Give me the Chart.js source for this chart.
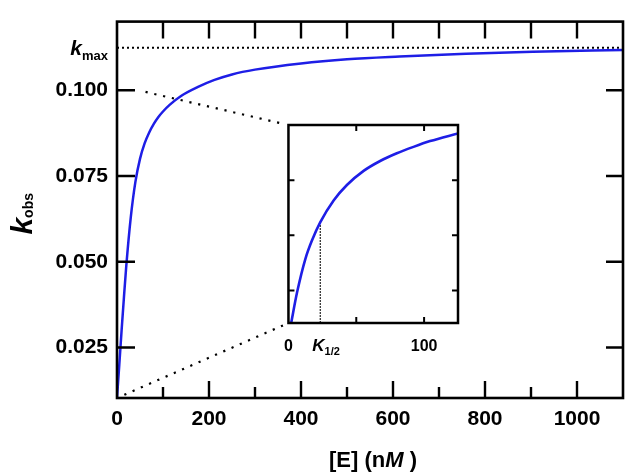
<!DOCTYPE html>
<html>
<head>
<meta charset="utf-8">
<script src="https://cdn.jsdelivr.net/npm/chart.js@4.4.1/dist/chart.umd.min.js"></script>
<style>
  html, body { margin: 0; padding: 0; background: #fff; }
  #wrap { position: relative; width: 632px; height: 475px; }
  #main { position: absolute; left: 0; top: 0; }
  #inset { position: absolute; left: 270px; top: 115px; }
</style>
</head>
<body>
<div id="wrap">
  <canvas id="main" width="632" height="475"></canvas>
  <canvas id="inset" width="200" height="250"></canvas>
</div>
<script>
// curve: [E] (nM) vs kobs
const mainE = [0, 5, 10, 15, 20, 30, 40, 50, 60, 70, 80, 90, 100, 115, 140, 175, 212, 250, 300, 400, 500, 614, 759, 904, 1100];
const mainK = [0.0103, 0.0200, 0.0300, 0.0395, 0.0485, 0.0630, 0.0733, 0.0800, 0.0845, 0.0877, 0.0902, 0.0922, 0.0938, 0.0958, 0.0984, 0.1009, 0.1030, 0.1046, 0.1060, 0.1078, 0.1090, 0.1098, 0.1106, 0.1112, 0.1117];

// same curve (0-125 nM)
const insetE = [2, 6.4, 12.5, 17.4, 23.5, 33.3, 43.1, 55.4, 67.6, 79.9, 92.2, 104.4, 125];
const insetK = [0.0103, 0.0243, 0.0394, 0.0478, 0.0560, 0.0658, 0.0728, 0.0792, 0.0837, 0.0872, 0.0901, 0.0927, 0.0962];

const kmax = 0.1124;
const kHalfE = 23.5;
const kHalfK = 0.0560;

const xTicks = [0, 200, 400, 600, 800, 1000];
const xMinorStep = 100;
const yTicks = [0.025, 0.050, 0.075, 0.100];
const insetXTicks = [0, 50, 100];
const insetXLabels = [0, 100];
const insetYTicks = [0.025, 0.050, 0.075];

const FAM = '"Liberation Sans", Arial, sans-serif';
const BLUE = '#1e1ee6';

function runs(ctx, parts, x, y, align) {
  let total = 0;
  parts.forEach(p => { ctx.font = p.font; p.w = ctx.measureText(p.text).width; total += p.w; });
  let cx = align === 'center' ? x - total / 2 : align === 'right' ? x - total : x;
  parts.forEach(p => { ctx.font = p.font; ctx.fillText(p.text, cx, y + (p.dy || 0)); cx += p.w; });
}

function dotted(ctx, x1, y1, x2, y2, gap1, gap2) {
  const len = Math.hypot(x2 - x1, y2 - y1);
  const ux = (x2 - x1) / len, uy = (y2 - y1) / len;
  ctx.save();
  ctx.strokeStyle = '#000';
  ctx.lineWidth = 2.2;
  ctx.setLineDash([2.2, 6.8]);
  ctx.beginPath();
  ctx.moveTo(x1 + ux * gap1, y1 + uy * gap1);
  ctx.lineTo(x2 - ux * gap2, y2 - uy * gap2);
  ctx.stroke();
  ctx.restore();
}

// ---------- inset ----------
const insetFrame = {
  id: 'insetFrame',
  afterDraw(chart) {
    const ctx = chart.ctx, a = chart.chartArea;
    const xs = chart.scales.x, ys = chart.scales.y;
    ctx.save();
    ctx.strokeStyle = '#000';
    ctx.lineWidth = 2.5;
    ctx.strokeRect(a.left, a.top, a.right - a.left, a.bottom - a.top);
    ctx.lineWidth = 2;
    ctx.beginPath();
    insetXTicks.forEach(v => {
      if (v === 0) return;
      const px = xs.getPixelForValue(v);
      ctx.moveTo(px, a.bottom); ctx.lineTo(px, a.bottom - 6);
      ctx.moveTo(px, a.top); ctx.lineTo(px, a.top + 6);
    });
    insetYTicks.forEach(v => {
      const py = ys.getPixelForValue(v);
      ctx.moveTo(a.left, py); ctx.lineTo(a.left + 6, py);
      ctx.moveTo(a.right, py); ctx.lineTo(a.right - 6, py);
    });
    ctx.stroke();
    // K1/2 label under the dotted marker
    ctx.fillStyle = '#000';
    ctx.textBaseline = 'alphabetic';
    const kx = xs.getPixelForValue(kHalfE);
    runs(ctx, [
      { text: 'K', font: 'italic bold 17px ' + FAM },
      { text: '1/2', font: 'bold 11px ' + FAM, dy: 4 }
    ], kx - 8, a.bottom + 28, 'left');
    ctx.restore();
  }
};

const insetChart = new Chart(document.getElementById('inset'), {
  type: 'scatter',
  data: {
    datasets: [
      {
        data: insetE.map((e, i) => ({ x: e, y: insetK[i] })),
        showLine: true, borderColor: BLUE, borderWidth: 2.6, pointRadius: 0,
        cubicInterpolationMode: 'monotone'
      },
      {
        data: [{ x: kHalfE, y: insetYTicks[0] - 0.02 }, { x: kHalfE, y: kHalfK }],
        showLine: true, borderColor: '#000', borderWidth: 1.4, borderDash: [1.4, 1.6], pointRadius: 0
      }
    ]
  },
  options: {
    responsive: false,
    animation: false,
    layout: { padding: { left: 18, top: 10, right: 12, bottom: 0 } },
    plugins: { legend: { display: false }, tooltip: { enabled: false } },
    scales: {
      x: {
        type: 'linear', min: 0, max: 125,
        afterBuildTicks: s => { s.ticks = insetXTicks.map(v => ({ value: v })); },
        afterFit: s => { s.height = 42; },
        grid: { display: false, drawTicks: false },
        border: { display: false },
        ticks: {
          padding: 14, color: '#000', maxRotation: 0, autoSkip: false,
          font: { family: FAM, weight: 'bold', size: 16 },
          callback: v => insetXLabels.includes(v) ? String(v) : ''
        }
      },
      y: {
        type: 'linear', min: 0.0103, max: 0.1,
        afterBuildTicks: s => { s.ticks = insetYTicks.map(v => ({ value: v })); },
        afterFit: s => { s.width = 0; },
        grid: { display: false, drawTicks: false },
        border: { display: false },
        ticks: { display: false }
      }
    }
  },
  plugins: [insetFrame]
});

// ---------- main ----------
const mainFrame = {
  id: 'mainFrame',
  afterDraw(chart) {
    const ctx = chart.ctx, a = chart.chartArea;
    const xs = chart.scales.x, ys = chart.scales.y;
    ctx.save();
    ctx.strokeStyle = '#000';
    ctx.lineWidth = 2.6;
    ctx.strokeRect(a.left, a.top, a.right - a.left, a.bottom - a.top);
    ctx.lineWidth = 2.4;
    ctx.beginPath();
    for (let v = xMinorStep; v < xs.max; v += xMinorStep) {
      const px = xs.getPixelForValue(v);
      const len = xTicks.includes(v) ? 17 : 11;
      ctx.moveTo(px, a.bottom); ctx.lineTo(px, a.bottom - len);
      ctx.moveTo(px, a.top); ctx.lineTo(px, a.top + 17);
    }
    yTicks.forEach(v => {
      const py = ys.getPixelForValue(v);
      ctx.moveTo(a.left, py); ctx.lineTo(a.left + 18, py);
      ctx.moveTo(a.right, py); ctx.lineTo(a.right - 17, py);
    });
    ctx.stroke();

    // zoom connectors towards the inset corners
    const ic = insetChart.canvas, ia = insetChart.chartArea;
    const il = ic.offsetLeft + ia.left, it = ic.offsetTop + ia.top, ib = ic.offsetTop + ia.bottom;
    dotted(ctx, xs.getPixelForValue(62), ys.getPixelForValue(0.0995), il, it, 0, 7);
    dotted(ctx, xs.getPixelForValue(0), ys.getPixelForValue(mainK[0]), il, ib, 8, 6);

    ctx.fillStyle = '#000';
    ctx.textBaseline = 'alphabetic';
    // kmax label
    const ky = ys.getPixelForValue(kmax);
    runs(ctx, [
      { text: 'k', font: 'italic bold 21px ' + FAM },
      { text: 'max', font: 'bold 13px ' + FAM, dy: 5 }
    ], a.left - 9, ky + 7, 'right');
    // x title
    runs(ctx, [
      { text: '[E] (n', font: 'bold 22px ' + FAM },
      { text: 'M', font: 'italic bold 22px ' + FAM },
      { text: ' )', font: 'bold 22px ' + FAM }
    ], (a.left + a.right) / 2 + 3, 467, 'center');
    // y title
    ctx.translate(32, (a.top + a.bottom) / 2 + 4);
    ctx.rotate(-Math.PI / 2);
    runs(ctx, [
      { text: 'k', font: 'italic bold 30px ' + FAM },
      { text: 'obs', font: 'bold 14px ' + FAM, dy: 1 }
    ], 0, 0, 'center');
    ctx.restore();
  }
};

new Chart(document.getElementById('main'), {
  type: 'scatter',
  data: {
    datasets: [
      {
        data: mainE.map((e, i) => ({ x: e, y: mainK[i] })),
        showLine: true, borderColor: BLUE, borderWidth: 2.5, pointRadius: 0,
        cubicInterpolationMode: 'monotone'
      },
      {
        data: [{ x: 0, y: kmax }, { x: 1100, y: kmax }],
        showLine: true, borderColor: '#000', borderWidth: 2, borderDash: [2, 3], pointRadius: 0
      }
    ]
  },
  options: {
    responsive: false,
    animation: false,
    layout: { padding: { left: 0, top: 8, right: 9, bottom: 0 } },
    plugins: { legend: { display: false }, tooltip: { enabled: false } },
    scales: {
      x: {
        type: 'linear', min: 0, max: 1100,
        afterBuildTicks: s => { s.ticks = xTicks.map(v => ({ value: v })); },
        afterFit: s => { s.height = 77; },
        grid: { display: false, drawTicks: false },
        border: { display: false },
        ticks: {
          padding: 9, color: '#000', maxRotation: 0, autoSkip: false,
          font: { family: FAM, weight: 'bold', size: 21 },
          callback: v => String(v)
        }
      },
      y: {
        type: 'linear', min: 0.0103, max: 0.1200,
        afterBuildTicks: s => { s.ticks = yTicks.map(v => ({ value: v })); },
        afterFit: s => { s.width = 117; },
        grid: { display: false, drawTicks: false },
        border: { display: false },
        ticks: {
          padding: 9, color: '#000',
          font: { family: FAM, weight: 'bold', size: 21 },
          callback: v => v.toFixed(3)
        }
      }
    }
  },
  plugins: [mainFrame]
});
</script>
</body>
</html>
